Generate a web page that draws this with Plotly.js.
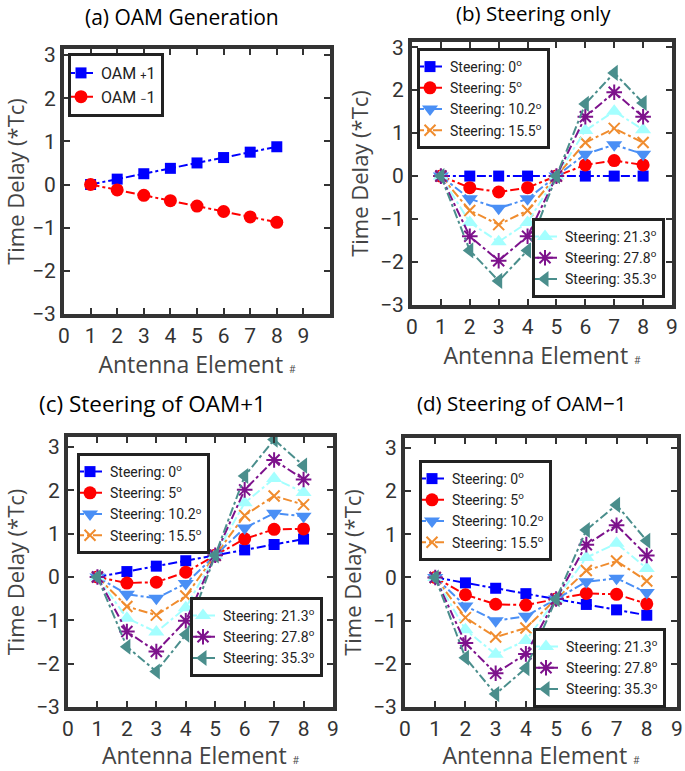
<!DOCTYPE html>
<html>
<head>
<meta charset="utf-8">
<script src="https://cdn.plot.ly/plotly-3.0.1.min.js"></script>
<style>html,body{margin:0;padding:0;background:#fff;}#chart{width:685px;height:771px;}</style>
</head>
<body>
<div id="chart"></div>
<script>
// ---------------- data ----------------
const elements = [1, 2, 3, 4, 5, 6, 7, 8];
const xTicks = [0, 1, 2, 3, 4, 5, 6, 7, 8, 9];
const yTicks = [-3, -2, -1, 0, 1, 2, 3];

const oamLabels = ['OAM <span style="font-size:11px">+</span>1', 'OAM <span style="font-size:11px">\u2212</span>1'];
const oamPlus1  = [0, 0.125, 0.25, 0.375, 0.5, 0.625, 0.75, 0.875];
const oamMinus1 = [0, -0.125, -0.25, -0.375, -0.5, -0.625, -0.75, -0.875];

const steeringAngles = ['0', '5', '10.2', '15.5', '21.3', '27.8', '35.3'];

// (b) steering only
const steerOnly = [
  [0, 0, 0, 0, 0, 0, 0, 0],
  [0, -0.27, -0.37, -0.27, 0, 0.26, 0.36, 0.26],
  [0, -0.53, -0.75, -0.53, 0, 0.51, 0.73, 0.51],
  [0, -0.80, -1.13, -0.80, 0, 0.78, 1.11, 0.78],
  [0, -1.08, -1.53, -1.08, 0, 1.06, 1.51, 1.08],
  [0, -1.40, -1.97, -1.40, 0, 1.38, 1.95, 1.38],
  [0, -1.73, -2.44, -1.73, 0, 1.68, 2.40, 1.70]
];

// (c) steering of OAM+1
const steerOamPlus = [
  [0, 0.125, 0.25, 0.375, 0.5, 0.625, 0.75, 0.875],
  [0, -0.14, -0.12, 0.11, 0.5, 0.88, 1.10, 1.11],
  [0, -0.40, -0.49, -0.15, 0.5, 1.13, 1.47, 1.40],
  [0, -0.68, -0.88, -0.44, 0.5, 1.42, 1.87, 1.67],
  [0, -0.95, -1.27, -0.71, 0.5, 1.71, 2.27, 1.95],
  [0, -1.26, -1.72, -1.01, 0.5, 2.01, 2.70, 2.25],
  [0, -1.61, -2.18, -1.33, 0.5, 2.33, 3.17, 2.57]
];

// (d) steering of OAM-1
const steerOamMinus = [
  [0, -0.125, -0.25, -0.375, -0.5, -0.625, -0.75, -0.875],
  [0, -0.40, -0.62, -0.64, -0.5, -0.37, -0.39, -0.61],
  [0, -0.66, -1.00, -0.90, -0.5, -0.10, -0.02, -0.35],
  [0, -0.93, -1.38, -1.17, -0.5, 0.16, 0.38, -0.08],
  [0, -1.21, -1.78, -1.46, -0.5, 0.46, 0.79, 0.21],
  [0, -1.52, -2.22, -1.77, -0.5, 0.76, 1.21, 0.51],
  [0, -1.86, -2.70, -2.10, -0.5, 1.10, 1.68, 0.85]
];

// ---------------- styles ----------------
const colors  = ['#0000ff', '#ff0000', '#4a8ff5', '#f08c2e', '#a4ffff', '#7d128c', '#4a8e8c'];
const symbols = ['square', 'circle', 'triangle-down', 'x-thin-open', 'triangle-up', 'asterisk-open', 'triangle-left'];
const sizes   = [11, 13, 14, 11, 14, 13, 14];
const legendFont = {family: 'Roboto, "Open Sans", sans-serif', size: 14, color: '#222'};

function seriesTrace(x, y, i, xa, ya, legend, name) {
  const open = symbols[i].endsWith('open');
  return {
    type: 'scatter', mode: 'lines+markers', x: x, y: y, name: name,
    xaxis: xa, yaxis: ya, legend: legend,
    line: {color: colors[i], width: 2, dash: 'dashdot'},
    marker: {symbol: symbols[i], size: sizes[i], color: colors[i],
             line: open ? {color: colors[i], width: 2} : {width: 0}}
  };
}

const traces = [];
// (a)
traces.push(seriesTrace(elements, oamPlus1, 0, 'x', 'y', 'legend', oamLabels[0]));
traces.push(seriesTrace(elements, oamMinus1, 1, 'x', 'y', 'legend', oamLabels[1]));

const panels = [
  {data: steerOnly,     xa: 'x2', ya: 'y2', lg: ['legend2', 'legend3']},
  {data: steerOamPlus,  xa: 'x3', ya: 'y3', lg: ['legend4', 'legend5']},
  {data: steerOamMinus, xa: 'x4', ya: 'y4', lg: ['legend6', 'legend7']}
];
panels.forEach(p => {
  p.data.forEach((vals, i) => {
    const name = 'Steering: ' + steeringAngles[i] + '<sup>o</sup>';
    traces.push(seriesTrace(elements, vals, i, p.xa, p.ya, i < 4 ? p.lg[0] : p.lg[1], name));
  });
});

// ---------------- layout ----------------
const W = 685, H = 771;
function dx(a, b) { return [a / W, b / W]; }
function dy(top, bottom) { return [1 - bottom / H, 1 - top / H]; }

const tickFont = {family: 'Roboto, "Open Sans", sans-serif', size: 21, color: '#333'};
const xTitleFont = {family: '"Open Sans", Roboto, sans-serif', size: 23, color: '#444'};
const yTitleFont = {family: '"Open Sans", Roboto, sans-serif', size: 22, color: '#444'};

function xAxis(domain, range, anchor) {
  return {
    domain: domain, range: range, anchor: anchor,
    tickvals: xTicks, ticks: 'inside', ticklen: 6, tickwidth: 2, tickcolor: '#333',
    showline: true, linewidth: 4, linecolor: '#333', mirror: 'ticks',
    showgrid: false, zeroline: false, tickfont: tickFont,
    title: {text: 'Antenna Element <span style="font-size:10px">#</span>', font: xTitleFont, standoff: 10}
  };
}
function yAxis(domain, range, anchor) {
  return {
    domain: domain, range: range, anchor: anchor,
    tickvals: yTicks, ticks: 'inside', ticklen: 6, tickwidth: 2, tickcolor: '#333',
    showline: true, linewidth: 4, linecolor: '#333', mirror: 'ticks',
    showgrid: false, zeroline: false, tickfont: tickFont,
    title: {text: 'Time Delay (*Tc)', font: yTitleFont, standoff: 6}
  };
}
function legendBox(x, yTop, anchor) {
  return {
    x: x / W, y: 1 - yTop / H, xanchor: anchor || 'left', yanchor: 'top',
    bgcolor: '#ffffff', bordercolor: '#222', borderwidth: 3,
    font: legendFont, itemwidth: 30, tracegroupgap: 0, indentation: -10
  };
}

const titles = [
  {text: '(a) OAM Generation',       x: 182, y: 17,  size: 21},
  {text: '(b) Steering only',        x: 533, y: 13,  size: 20.5},
  {text: '(c) Steering of OAM+1',    x: 152, y: 403, size: 22.5},
  {text: '(d) Steering of OAM\u22121', x: 521, y: 403, size: 20.5}
];

const layout = {
  width: W, height: H,
  margin: {l: 0, r: 0, t: 0, b: 0},
  paper_bgcolor: '#fff', plot_bgcolor: '#fff',
  showlegend: true,
  xaxis:  xAxis(dx(64, 330),  [0, 10], 'y'),
  yaxis:  yAxis(dy(49, 314),  [-3, 3.14], 'x'),
  xaxis2: xAxis(dx(412, 672), [0, 9], 'y2'),
  yaxis2: yAxis(dy(42, 305),  [-3, 3.12], 'x2'),
  xaxis3: xAxis(dx(68, 333),  [0, 9], 'y3'),
  yaxis3: yAxis(dy(437, 707), [-3, 3.23], 'x3'),
  xaxis4: xAxis(dx(405, 677), [0, 9], 'y4'),
  yaxis4: yAxis(dy(438, 707), [-3, 3.23], 'x4'),
  legend:  Object.assign(legendBox(68, 53), {font: {family: 'Roboto, "Open Sans", sans-serif', size: 16, color: '#222'}}),
  legend2: legendBox(417, 48),
  legend3: legendBox(665, 218, 'right'),
  legend4: legendBox(77, 453),
  legend5: legendBox(323, 597, 'right'),
  legend6: legendBox(419, 460),
  legend7: legendBox(666, 628, 'right'),
  annotations: titles.map(t => ({
    text: t.text, xref: 'paper', yref: 'paper', x: t.x / W, y: 1 - t.y / H,
    xanchor: 'center', yanchor: 'middle', showarrow: false,
    font: {family: '"Open Sans", Lato, sans-serif', size: t.size, color: '#000'}
  }))
};

Plotly.newPlot('chart', traces, layout, {staticPlot: true, displayModeBar: false});
</script>
</body>
</html>
